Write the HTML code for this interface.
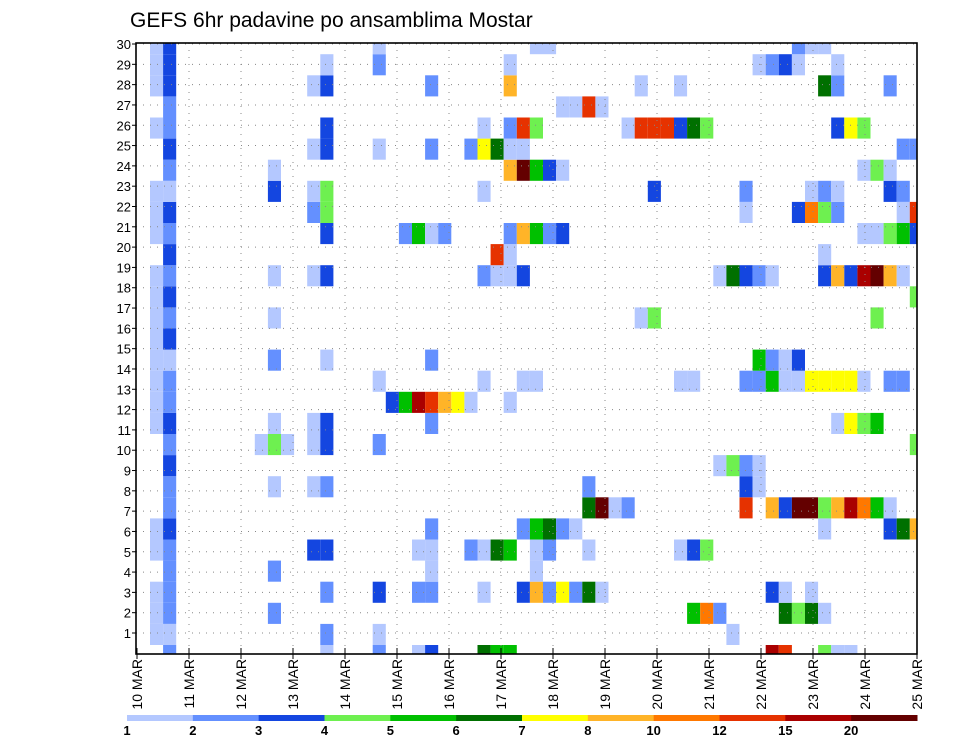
<!DOCTYPE html>
<html><head><meta charset="utf-8"><style>
body{margin:0;background:#fff;}
svg text{font-family:"Liberation Sans",sans-serif;}
</style></head><body>
<svg id="chart" width="960" height="742" viewBox="0 0 960 742" xmlns="http://www.w3.org/2000/svg">
<rect width="960" height="742" fill="#fff"/>
<text x="130" y="27" font-size="21" fill="#000">GEFS 6hr padavine po ansamblima Mostar</text>
<g id="cells"></g>
<g id="grid"></g>
<rect x="136" y="43" width="781" height="611" fill="none" stroke="#000" stroke-width="1.6"/>
<g id="axes"></g>
<g id="legend"></g>
</svg>
<script>
// level codes 1..12 ; each row: "step:level" tokens, index = member row (0 bottom)
const memberRows = [
"1:2 13:1 17:2 20:1 21:3 25:6 26:5 27:5 47:11 48:10 51:4 52:1 53:1",
"0:1 1:1 13:2 17:1 44:1",
"0:1 1:2 9:2 41:5 42:9 43:2 48:6 49:4 50:6 51:1",
"0:1 1:2 13:2 17:3 20:2 21:2 25:1 28:3 29:8 30:2 31:7 32:2 33:6 34:1 47:3 48:1 50:1",
"1:2 9:2 21:1 29:1",
"0:1 1:2 12:3 13:3 20:1 21:1 24:2 25:1 26:6 27:5 29:1 30:2 33:1 40:1 41:3 42:4",
"0:1 1:3 21:2 28:2 29:5 30:6 31:2 32:1 51:1 56:3 57:6 58:8",
"1:2 33:6 34:12 35:1 36:2 45:10 47:8 48:3 49:12 50:12 51:4 52:8 53:11 54:9 55:5 56:1",
"1:2 9:1 12:1 13:2 33:2 45:3 46:1",
"1:3 43:1 44:4 45:2 46:1",
"1:2 8:1 9:4 10:1 12:1 13:3 17:2 58:4",
"0:1 1:3 9:1 12:1 13:3 21:2 52:1 53:7 54:4 55:5",
"0:1 1:2 18:3 19:5 20:11 21:10 22:8 23:7 24:1 27:1",
"0:1 1:2 17:1 25:1 28:1 29:1 40:1 41:1 45:2 46:2 47:5 48:1 49:1 50:7 51:7 52:7 53:7 54:1 56:2 57:2",
"0:1 1:1 9:2 13:1 21:2 46:5 47:2 48:1 49:3",
"0:1 1:3",
"0:1 1:2 9:1 37:1 38:4 55:4",
"0:1 1:3 58:4",
"0:1 1:2 9:1 12:1 13:3 25:2 26:1 27:1 28:3 43:1 44:6 45:3 46:2 47:1 51:3 52:8 53:3 54:11 55:12 56:8 57:1",
"1:3 26:10 27:1 51:1",
"0:1 1:2 13:3 19:2 20:5 21:1 22:2 27:2 28:8 29:5 30:2 31:3 54:1 55:1 56:4 57:5 58:3",
"0:1 1:3 12:2 13:4 45:1 49:3 50:9 51:4 52:2 57:1 58:10",
"0:1 1:1 9:3 12:1 13:4 25:1 38:3 45:2 50:1 51:2 52:1 56:3 57:2",
"1:2 9:1 27:8 28:12 29:5 30:3 31:1 54:1 55:4 56:1",
"1:3 12:1 13:3 17:1 21:2 24:2 25:7 26:6 27:1 28:1 57:2 58:2",
"0:1 1:2 13:3 25:1 27:2 28:10 29:4 36:1 37:10 38:10 39:10 40:3 41:6 42:4 52:3 53:7 54:4",
"1:2 31:1 32:1 33:10 34:1",
"0:1 1:3 12:1 13:3 21:2 27:8 37:1 40:1 51:6 52:2 56:2",
"0:1 1:3 13:1 17:2 27:1 46:1 47:2 48:3 49:1 52:1",
"0:1 1:3 17:1 29:1 30:1 49:2 50:1 51:1"
];
const levelColors = ["#b4c8ff","#6490ff","#1446e0","#6ef050","#00c000","#007000","#ffff00","#ffb428","#ff7800","#e63200","#aa0000","#640000"];
const legendLabels = ["1","2","3","4","5","6","7","8","10","12","15","20"];
const dayLabels = ["10 MAR","11 MAR","12 MAR","13 MAR","14 MAR","15 MAR","16 MAR","17 MAR","18 MAR","19 MAR","20 MAR","21 MAR","22 MAR","23 MAR","24 MAR","25 MAR"];
const memberLabels = [1,2,3,4,5,6,7,8,9,10,11,12,13,14,15,16,17,18,19,20,21,22,23,24,25,26,27,28,29,30];

const NS="http://www.w3.org/2000/svg";
const PL=136, PR=917, PT=43, PB=654;
function cellX(step){return 150+13.1*step;}
function cellTop(m){return 645-21.1*m;}
function dayX(d){return 137+52*d;}
function labelY(k){return 633-20.31*(k-1);}
function mk(tag,attrs,parent){const e=document.createElementNS(NS,tag);for(const k in attrs)e.setAttribute(k,attrs[k]);parent.appendChild(e);return e;}

const gc=document.getElementById('cells');
memberRows.forEach((row,m)=>{
  row.split(' ').forEach(tok=>{
    const [s,l]=tok.split(':').map(Number);
    let x0=cellX(s), x1=cellX(s+1), y0=cellTop(m), y1=y0+21.1;
    x0=Math.max(x0,PL); x1=Math.min(x1,PR); y0=Math.max(y0,PT); y1=Math.min(y1,PB);
    const r=mk('rect',{x:x0,y:y0,width:x1-x0,height:y1-y0,fill:levelColors[l-1]},gc);
    
    
  });
});

const gg=document.getElementById('grid');
for(let d=1;d<dayLabels.length-1;d++){
  const l=mk('line',{x1:dayX(d),x2:dayX(d),y1:PT,y2:PB,stroke:'#888','stroke-width':1,'stroke-dasharray':'1,6'},gg);
  
  
}
memberLabels.forEach(k=>{
  const l=mk('line',{x1:PL,x2:PR,y1:labelY(k),y2:labelY(k),stroke:'#888','stroke-width':1,'stroke-dasharray':'1,6'},gg);
  
  
});

const ga=document.getElementById('axes');
memberLabels.forEach(k=>{
  const t=mk('line',{x1:PL-4,x2:PL,y1:labelY(k),y2:labelY(k),stroke:'#000','stroke-width':1},ga);
  
  
  const tx=mk('text',{x:PL-5,y:labelY(k)+5,'font-size':13,'text-anchor':'end',fill:'#000'},ga);
  tx.textContent=k;
  
  
});
dayLabels.forEach((lab,d)=>{
  const x=dayX(d);
  const t=mk('line',{x1:x,x2:x,y1:PB-6,y2:PB+5,stroke:'#000','stroke-width':1},ga);
  
  
  const tx=mk('text',{x:0,y:0,'font-size':14,'text-anchor':'end',fill:'#000',transform:`translate(${x+5},${PB+5}) rotate(-90)`},ga);
  tx.textContent=lab;
  
  
});

const gl=document.getElementById('legend');
const LX0=127, LX1=917, segW=(LX1-LX0)/levelColors.length;
levelColors.forEach((c,i)=>{
  const r=mk('rect',{x:LX0+i*segW,y:715,width:segW+0.5,height:6,fill:c},gl);
  
  
});
legendLabels.forEach((lab,i)=>{
  const tx=mk('text',{x:LX0+i*segW,y:735,'font-size':13,'font-weight':'bold','text-anchor':'middle',fill:'#000'},gl);
  tx.textContent=lab;
  
  
});
</script>
</body></html>
